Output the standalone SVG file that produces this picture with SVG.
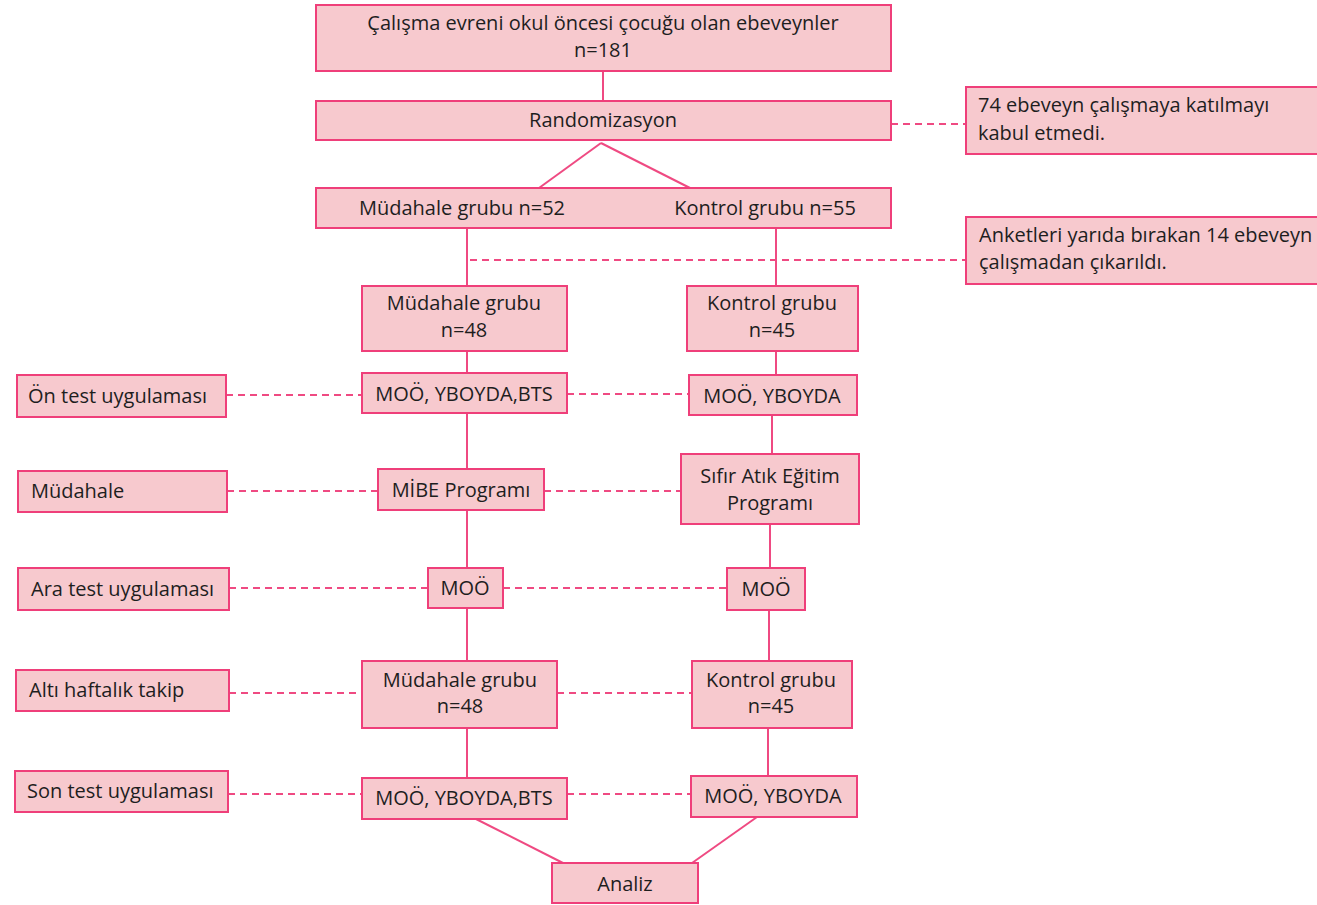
<svg xmlns="http://www.w3.org/2000/svg" width="1317" height="905" viewBox="0 0 1317 905">
<style>
.b{fill:#F7C9CE;stroke:#EF3F7A;stroke-width:2}
.t{font-family:"Open Sans","Noto Sans",sans-serif;font-size:20px;fill:#1e1e1e}
.m{text-anchor:middle}
.s{stroke:#EF4A82;stroke-width:2;fill:none}
.d{stroke:#EF4A82;stroke-width:2;fill:none;stroke-dasharray:7 5}
</style>
<rect width="1317" height="905" fill="#fff"/>
<g id="connectors">
<line class="s" x1="603" y1="71" x2="603" y2="101"/>
<line class="d" x1="891" y1="124" x2="966" y2="124"/>
<line class="s" x1="601" y1="143" x2="539" y2="188"/>
<line class="s" x1="601" y1="143" x2="690" y2="188"/>
<line class="s" x1="467" y1="228" x2="467" y2="286"/>
<line class="s" x1="776" y1="228" x2="776" y2="286"/>
<line class="d" x1="470" y1="260" x2="966" y2="260"/>
<line class="s" x1="467" y1="351" x2="467" y2="373"/>
<line class="s" x1="776" y1="351" x2="776" y2="375"/>
<line class="d" x1="226" y1="395" x2="362" y2="395"/>
<line class="d" x1="567" y1="394" x2="689" y2="394"/>
<line class="s" x1="467" y1="413" x2="467" y2="469"/>
<line class="s" x1="772" y1="415" x2="772" y2="454"/>
<line class="d" x1="227" y1="491" x2="378" y2="491"/>
<line class="d" x1="544" y1="491" x2="681" y2="491"/>
<line class="s" x1="467" y1="510" x2="467" y2="568"/>
<line class="s" x1="770" y1="524" x2="770" y2="568"/>
<line class="d" x1="229" y1="588" x2="428" y2="588"/>
<line class="d" x1="503" y1="588" x2="727" y2="588"/>
<line class="s" x1="467" y1="608" x2="467" y2="661"/>
<line class="s" x1="769" y1="610" x2="769" y2="661"/>
<line class="d" x1="229" y1="693" x2="362" y2="693"/>
<line class="d" x1="557" y1="693" x2="692" y2="693"/>
<line class="s" x1="467" y1="728" x2="467" y2="778"/>
<line class="s" x1="768" y1="728" x2="768" y2="776"/>
<line class="d" x1="228" y1="794" x2="362" y2="794"/>
<line class="d" x1="567" y1="794" x2="691" y2="794"/>
<line class="s" x1="476" y1="819" x2="563" y2="863"/>
<line class="s" x1="757" y1="817" x2="692" y2="863"/>
</g>
<g id="n-evren"><rect class="b" x="316" y="5" width="575" height="66"/><text class="t m" x="603" y="30">Çalışma evreni okul öncesi çocuğu olan ebeveynler</text><text class="t m" x="603" y="57">n=181</text></g>
<g id="n-random"><rect class="b" x="316" y="101" width="575" height="39"/><text class="t m" x="603" y="127">Randomizasyon</text></g>
<g id="n-red"><rect class="b" x="966" y="87" width="352" height="67"/><text class="t" x="978" y="112">74 ebeveyn çalışmaya katılmayı</text><text class="t" x="978" y="140">kabul etmedi.</text></g>
<g id="n-gruplar"><rect class="b" x="316" y="188" width="575" height="40"/><text class="t m" x="462" y="215">Müdahale grubu n=52</text><text class="t m" x="765" y="215">Kontrol grubu n=55</text></g>
<g id="n-cikan"><rect class="b" x="966" y="217" width="352" height="67"/><text class="t" x="979" y="242">Anketleri yarıda bırakan 14 ebeveyn</text><text class="t" x="979" y="269">çalışmadan çıkarıldı.</text></g>
<g id="n-mud48"><rect class="b" x="362" y="286" width="205" height="65"/><text class="t m" x="464" y="310">Müdahale grubu</text><text class="t m" x="464" y="337">n=48</text></g>
<g id="n-kon45"><rect class="b" x="687" y="286" width="171" height="65"/><text class="t m" x="772" y="310">Kontrol grubu</text><text class="t m" x="772" y="337">n=45</text></g>
<g id="n-ontest"><rect class="b" x="17" y="375" width="209" height="42"/><text class="t" x="28" y="403">Ön test uygulaması</text></g>
<g id="n-on-m"><rect class="b" x="362" y="373" width="205" height="40"/><text class="t m" x="464" y="401">MOÖ, YBOYDA,BTS</text></g>
<g id="n-on-k"><rect class="b" x="689" y="375" width="168" height="40"/><text class="t m" x="772" y="403">MOÖ, YBOYDA</text></g>
<g id="n-mudahale"><rect class="b" x="18" y="471" width="209" height="41"/><text class="t" x="31" y="498">Müdahale</text></g>
<g id="n-mibe"><rect class="b" x="378" y="469" width="166" height="41"/><text class="t m" x="461" y="497">MİBE Programı</text></g>
<g id="n-sifir"><rect class="b" x="681" y="454" width="178" height="70"/><text class="t m" x="770" y="483">Sıfır Atık Eğitim</text><text class="t m" x="770" y="510">Programı</text></g>
<g id="n-aratest"><rect class="b" x="18" y="568" width="211" height="42"/><text class="t" x="31" y="596">Ara test uygulaması</text></g>
<g id="n-ara-m"><rect class="b" x="428" y="568" width="75" height="40"/><text class="t m" x="465" y="595">MOÖ</text></g>
<g id="n-ara-k"><rect class="b" x="727" y="568" width="78" height="42"/><text class="t m" x="766" y="596">MOÖ</text></g>
<g id="n-alti"><rect class="b" x="16" y="670" width="213" height="41"/><text class="t" x="29" y="697">Altı haftalık takip</text></g>
<g id="n-mud48b"><rect class="b" x="362" y="661" width="195" height="67"/><text class="t m" x="460" y="687">Müdahale grubu</text><text class="t m" x="460" y="713">n=48</text></g>
<g id="n-kon45b"><rect class="b" x="692" y="661" width="160" height="67"/><text class="t m" x="771" y="687">Kontrol grubu</text><text class="t m" x="771" y="713">n=45</text></g>
<g id="n-sontest"><rect class="b" x="15" y="771" width="213" height="41"/><text class="t" x="27" y="798">Son test uygulaması</text></g>
<g id="n-son-m"><rect class="b" x="362" y="778" width="205" height="41"/><text class="t m" x="464" y="805">MOÖ, YBOYDA,BTS</text></g>
<g id="n-son-k"><rect class="b" x="691" y="776" width="166" height="41"/><text class="t m" x="773" y="803">MOÖ, YBOYDA</text></g>
<g id="n-analiz"><rect class="b" x="552" y="863" width="146" height="40"/><text class="t m" x="625" y="891">Analiz</text></g>
</svg>
